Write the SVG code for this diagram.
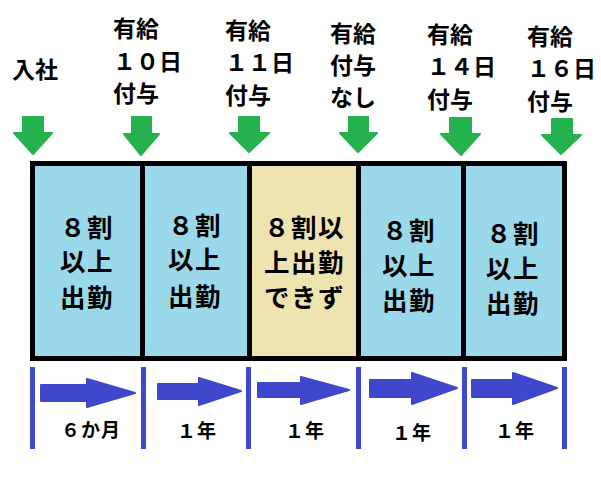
<svg xmlns="http://www.w3.org/2000/svg" width="601" height="478" viewBox="0 0 601 478">
<style>
text{font-family:"Noto Sans CJK JP","Noto Sans",sans-serif;fill:#000;font-weight:700}
.t{font-size:23px}
.b{font-size:25.5px;letter-spacing:1.5px}
.s{font-size:19px;letter-spacing:1px}
.a{fill:#25b14d;stroke:#25b14d;stroke-width:2;stroke-linejoin:round}
.r{fill:#3f48cc;stroke:#3f48cc;stroke-width:2;stroke-linejoin:round}
.v{fill:#3f48cc}
.blue{fill:#99d9ea}
.tan{fill:#efe4b0}
.d{fill:#000}
</style>
<rect width="601" height="478" fill="#fff"/>
<g id="frame">
<rect class="d" x="30" y="161" width="537" height="200"/>
</g>
<g id="cell1"><rect class="blue" x="35" y="166" width="105" height="190"/>
<text class="b" x="60" y="237">８割</text><text class="b" x="60" y="271">以上</text><text class="b" x="60" y="307">出勤</text></g>
<g id="cell2"><rect class="blue" x="145" y="166" width="102" height="190"/>
<text class="b" x="168" y="235">８割</text><text class="b" x="168" y="269">以上</text><text class="b" x="168" y="306">出勤</text></g>
<g id="cell3"><rect class="tan" x="252" y="166" width="104" height="190"/>
<text class="b" x="264" y="237">８割以</text><text class="b" x="264" y="272">上出勤</text><text class="b" x="264" y="307">できず</text></g>
<g id="cell4"><rect class="blue" x="361" y="166" width="100" height="190"/>
<text class="b" x="382" y="240">８割</text><text class="b" x="382" y="275">以上</text><text class="b" x="382" y="310">出勤</text></g>
<g id="cell5"><rect class="blue" x="466" y="166" width="96" height="190"/>
<text class="b" x="486" y="243">８割</text><text class="b" x="486" y="278">以上</text><text class="b" x="486" y="313">出勤</text></g>
<g id="labels">
<text class="t" x="12" y="78">入社</text>
<text class="t" x="113" y="37">有給</text><text class="t" x="113" y="70">１０日</text><text class="t" x="113" y="102">付与</text>
<text class="t" x="225" y="39">有給</text><text class="t" x="225" y="71">１１日</text><text class="t" x="225" y="104">付与</text>
<text class="t" x="330" y="42">有給</text><text class="t" x="330" y="74">付与</text><text class="t" x="330" y="106">なし</text>
<text class="t" x="427" y="43">有給</text><text class="t" x="427" y="75">１４日</text><text class="t" x="427" y="108">付与</text>
<text class="t" x="527" y="45">有給</text><text class="t" x="527" y="77">１６日</text><text class="t" x="527" y="110">付与</text>
<text class="s" x="61" y="437">６か月</text>
<text class="s" x="177" y="438">１年</text>
<text class="s" x="285" y="438">１年</text>
<text class="s" x="392" y="440">１年</text>
<text class="s" x="495" y="438">１年</text>
</g>
<g id="connectors">
<path class="a" d="M23 117H43V133H52L33 154L14 133H23Z"/>
<path class="a" d="M132 117H151V134H159L141 155L124 134H132Z"/>
<path class="a" d="M239 117H259V133H269L249 152L230 133H239Z"/>
<path class="a" d="M349 117H368V133H377L358 152L340 133H349Z"/>
<path class="a" d="M450 118H471V134H480L461 155L441 134H450Z"/>
<path class="a" d="M552 119H572V135H581L561 154L542 135H552Z"/>
<rect class="v" x="30" y="367" width="5" height="82"/>
<rect class="v" x="141" y="367" width="5" height="82"/>
<rect class="v" x="246" y="367" width="5" height="82"/>
<rect class="v" x="356" y="367" width="5" height="82"/>
<rect class="v" x="462" y="367" width="5" height="82"/>
<rect class="v" x="562" y="367" width="5" height="82"/>
<path class="r" d="M41 385H87V379L135 393L87 407V401H41Z"/>
<path class="r" d="M158 384H199V378L241 391L199 405V399H158Z"/>
<path class="r" d="M258 383H301V377L349 390L301 404V397H258Z"/>
<path class="r" d="M370 380H412V373L457 388L412 404V397H370Z"/>
<path class="r" d="M472 380H513V373L557 388L513 404V397H472Z"/>
</g>
</svg>
